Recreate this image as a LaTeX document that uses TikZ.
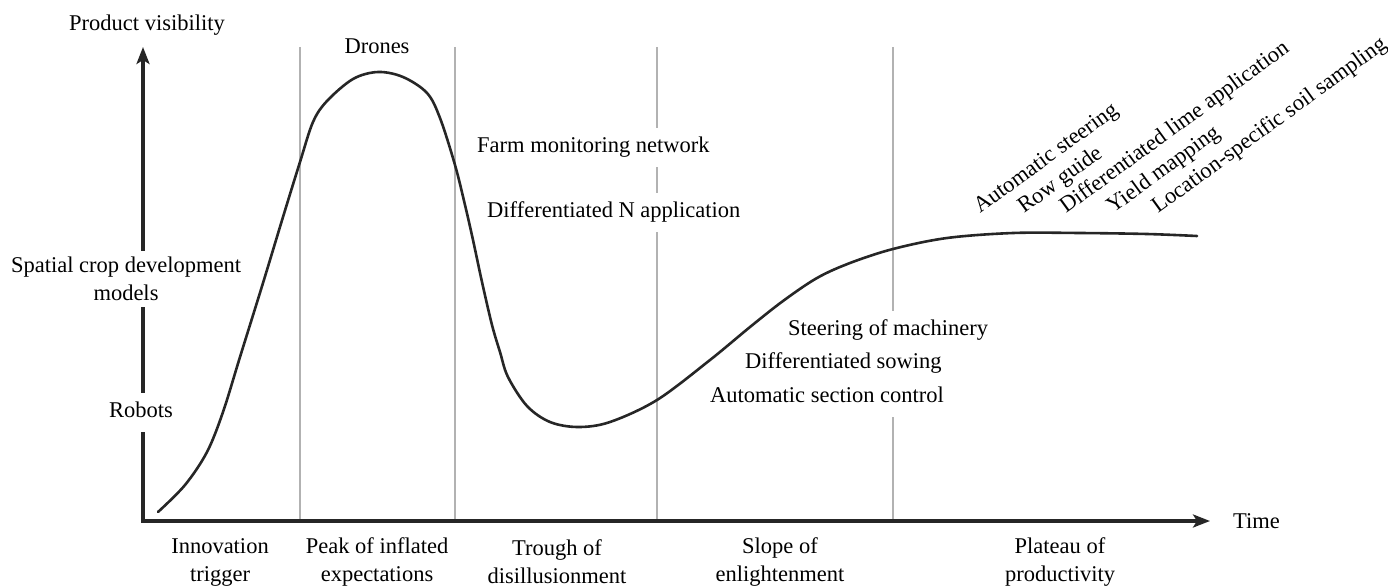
\documentclass[tikz,border=0pt]{standalone}
\usepackage{fontspec}
\setmainfont{Liberation Serif}
\newfontfamily\labelfont{Liberation Serif}
\usetikzlibrary{arrows.meta}
\begin{document}
\begin{tikzpicture}[x=1pt,y=-1pt,
  every node/.style={font=\labelfont\fontsize{22.5}{28}\selectfont},
  axis/.style={line width=3.2pt, draw=black!85},
  phase/.style={line width=2.4pt, draw=black!30},
  hype/.style={line width=2.6pt, draw=black!85, line cap=round},
  lbl/.style={fill=white, inner xsep=3pt, inner ysep=9pt, text height=16pt, text depth=5pt},
  stage/.style={align=center, inner sep=0pt},
  tilted/.style={rotate=36, anchor=base west, inner sep=0pt},
  tipA/.tip={Stealth[length=17pt,width=13pt,inset=4pt]}
]
\useasboundingbox (0,0) rectangle (1388,586);

% axes corner and ends
\coordinate (O) at (143,521);
\coordinate (ytop) at (143,47);
\coordinate (xend) at (1210,521);

% phase separators
\foreach \n/\x in {a/300, b/455, c/657, d/893} {
  \coordinate (\n top) at (\x,47);
  \coordinate (\n bot) at (\x,521);
  \draw[phase] (\n top) -- (\n bot);
}

% axes
\draw[axis, tipA-tipA] (ytop) -- (O) -- (xend);

% hype curve
\draw[hype] plot[smooth, tension=0.55] coordinates {
  (158,512) (185,485) (207,452) (223,412) (240,357) (263,283) (283,217)
  (300,162) (313,122) (327,101) (353,79) (378,72) (403,77) (427,93)
  (440,118) (455,165) (465,205) (473,240) (482,282) (492,325) (500,352)
  (508,377) (527,406) (550,422) (578,427) (610,422) (657,400) (710,360)
  (750,327) (783,301) (817,278) (850,263) (893,249) (947,238) (1013,233)
  (1080,233) (1147,234) (1197,236)};

% axis titles
\node (yt) at (147,25) {Product visibility};
\node[anchor=west, inner sep=3pt] (xt) at (1230,521) {Time};

% technologies
\node[lbl] (drn) at (377,48) {Drones};
\node[lbl, anchor=west] (fmn) at (474,147) {Farm monitoring network};
\node[lbl, anchor=west] (dna) at (484,212) {Differentiated N application};
\node[fill=white, align=center, inner xsep=3pt, inner ysep=6pt] (scd) at (126,279)
  {Spatial crop development\\models};
\node[lbl] (rob) at (141,412) {Robots};
\node[lbl, anchor=west] (stm) at (785,330) {Steering of machinery};
\node[lbl, anchor=west] (dso) at (742,363) {Differentiated sowing};
\node[lbl, anchor=west] (asc) at (707,397) {Automatic section control};

\node[tilted] (ast) at (980,214) {Automatic steering};
\node[tilted] (rgd) at (1024,214) {Row guide};
\node[tilted] (dla) at (1066,214) {Differentiated lime application};
\node[tilted] (ymp) at (1113,214) {Yield mapping};
\node[tilted] (lss) at (1158,214) {Location-specific soil sampling};

% phase names
\node[stage] (s1) at (220,562) {Innovation\\trigger};
\node[stage] (s2) at (377,562) {Peak of inflated\\expectations};
\node[stage] (s3) at (557,562) {Trough of\\disillusionment};
\node[stage] (s4) at (780,562) {Slope of\\enlightenment};
\node[stage] (s5) at (1060,562) {Plateau of\\productivity};
\end{tikzpicture}
\end{document}
